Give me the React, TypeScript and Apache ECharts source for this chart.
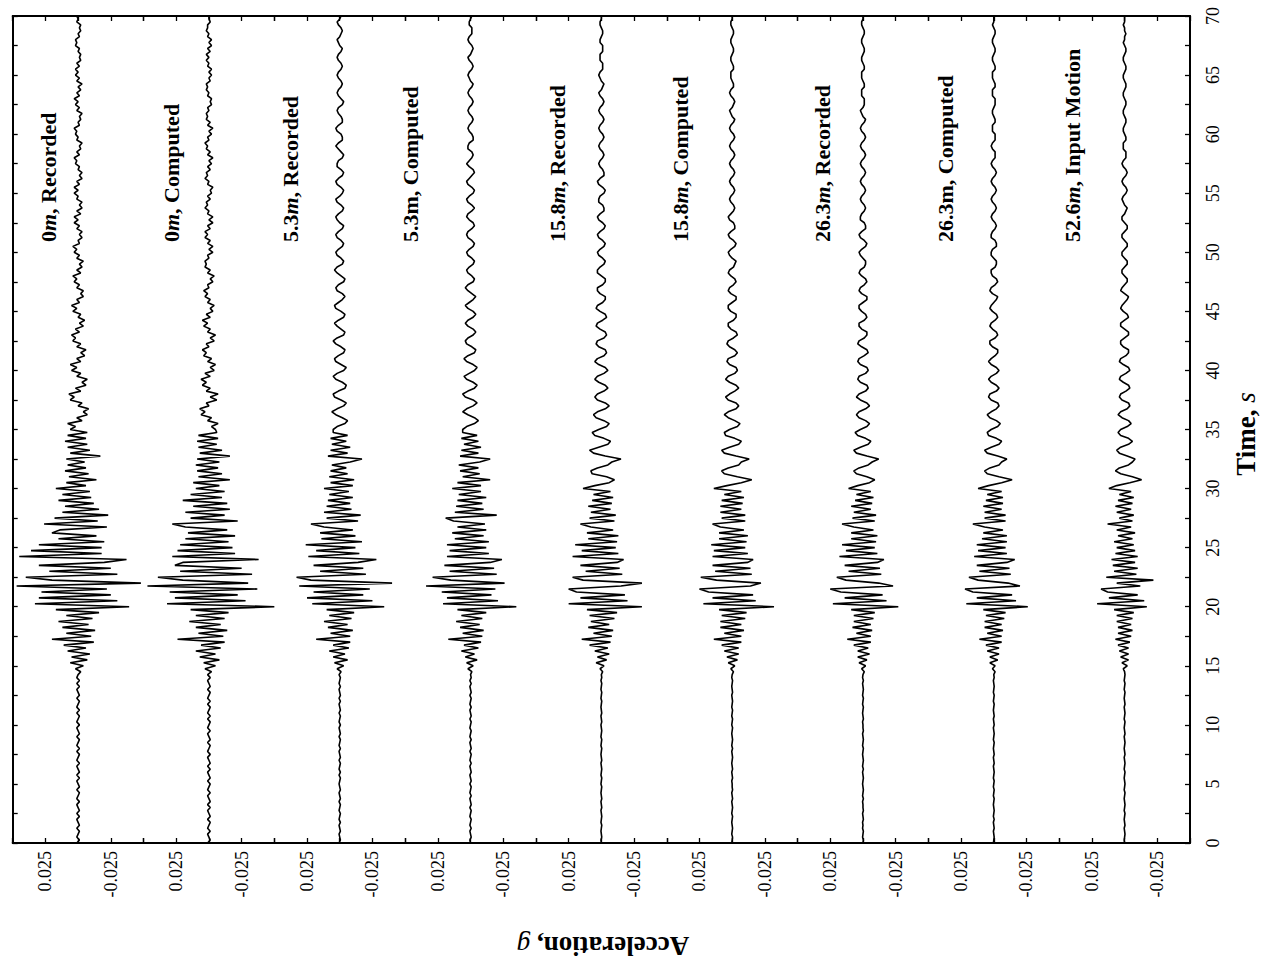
import React, { useEffect, useRef } from "react";
import * as echarts from "echarts";

// ---- data (acceleration in milli-g, sampled every DT seconds from t = 0 to 70 s) ----
const DT = 0.25;
const MILLI_G = 0.001;
const T_MIN = 0;
const T_MAX = 70;
const T_INTERVAL = 5;
const ACC_MIN = -0.05;
const ACC_MAX = 0.05;
const ACC_INTERVAL = 0.025;
const ACC_LABEL = 0.025;

const TRACE_DEPTHS = ["0", "0", "5.3", "5.3", "15.8", "15.8", "26.3", "26.3", "52.6"];
const TRACE_KINDS = ["Recorded", "Computed", "Recorded", "Computed", "Recorded", "Computed", "Recorded", "Computed", "Input Motion"];
const TRACE_ITALIC_M = [true, true, true, false, true, true, true, false, true];

const REC_0M = [
  1,-1,1,0,-1,1,-1,0,1,-1,1,-1,0,1,-1,1,0,-1,1,-1,
  0,1,-1,1,-1,0,1,-1,1,0,-1,1,-1,1,0,-1,1,-1,0,1,
  -1,1,0,-1,1,-1,1,0,-1,1,-1,0,1,-1,1,-1,1,0,-2,2,
  -4,6,-7,5,-9,8,-6,11,-12,20,-10,9,-13,12,-8,15,-11,9,-16,17,
  -39,33,-30,30,-25,28,-22,47,-48,20,40,-30,22,-25,30,-20,-37,45,-18,36,
  -18,30,-20,15,-14,20,14,-22,26,-15,18,-23,12,-16,10,-12,15,-10,12,-9,
  17,-6,9,-14,7,-8,10,-6,8,-5,9,-17,6,-9,8,-7,10,-6,8,-7,
  6,2,8,-3,1,-7,-4,-8,0,-3,6,3,7,-2,2,-6,-3,-7,1,-2,
  5,1,6,-2,1,-5,-2,-6,1,-2,4,2,5,-1,2,-4,-1,-5,0,-2,
  4,1,5,-1,1,-4,-2,-4,1,-1,3,1,4,-2,1,-3,-1,-4,1,-1,
  3,1,4,-1,0,-3,-1,-3,1,-1,3,0,3,-2,1,-3,-1,-3,1,0,
  3,0,3,-1,1,-3,-1,-3,0,-1,2,1,3,-1,1,-2,-1,-3,1,0,
  2,1,3,-1,0,-2,-1,-3,1,-1,2,0,3,-1,1,-2,0,-3,1,-1,
  2,0,2,-1,1,-2,-1,-2,0,-1,2,1,2,-1,0,-2,-1,-2,1,0,
  1,
];

const COMP_0M = [
  1,-1,0,1,-1,1,0,-1,1,-1,0,1,-1,1,-1,0,1,-1,1,0,
  -1,1,-1,0,1,-1,1,-1,0,1,-1,1,0,-1,1,-1,0,1,-1,1,
  0,-1,1,-1,1,0,-1,1,-1,1,0,-1,1,-1,0,1,-1,1,-2,3,
  -5,4,-8,7,-5,10,-9,6,-12,24,-11,8,-14,10,-9,15,-12,10,-15,14,
  -50,32,-28,26,-22,30,-37,47,-30,20,39,-33,22,-25,26,20,-38,28,-20,24,
  -18,22,-15,18,-20,16,-14,18,28,-22,14,-12,18,-16,12,-14,20,-10,14,-12,
  10,-8,12,-16,8,-10,9,-7,10,-8,9,-16,7,-10,8,-6,9,-7,8,-6,
  -5,-2,-7,1,-2,6,3,7,0,2,-6,-1,-7,2,-1,5,2,6,-1,3,
  -4,-1,-5,1,-2,4,2,5,0,2,-4,-1,-5,1,-1,4,1,5,-1,2,
  -3,-1,-4,1,-1,3,1,4,0,1,-3,-1,-4,1,-1,3,2,3,0,1,
  -3,0,-3,1,-1,3,1,3,-1,1,-3,0,-3,1,0,3,1,2,-1,1,
  -2,-1,-3,1,0,3,1,2,-1,1,-2,0,-3,1,-1,2,1,3,0,1,
  -2,0,-3,1,-1,2,1,2,0,1,-2,-1,-2,1,0,2,1,2,-1,0,
  -2,0,-2,1,0,2,0,2,-1,1,-2,0,-2,1,0,2,1,1,-1,0,
  0,
];

const REC_5M = [
  0.5,-0.5,0,0.5,-0.5,0,0.5,-0.5,0.5,0,-0.5,0.5,0,-0.5,0.5,-0.5,0,0.5,-0.5,0,
  0.5,0,-0.5,0.5,-0.5,0.5,0,-0.5,0.5,-0.5,0,0.5,-0.5,0.5,0,-0.5,0.5,-0.5,0,0.5,
  -0.5,0.5,0,-0.5,0.5,-0.5,0,0.5,-0.5,0.5,-0.5,0,0.5,-0.5,0.5,0,-0.5,0.5,-1,2,
  -3,4,-6,5,-4,8,-7,5,-8,18,-8,7,-10,9,-6,12,-9,8,-11,10,
  -34,21,-25,25,-18,20,-23,31,-40,22,33,-20,15,-18,20,-14,-28,24,-15,18,
  -12,26,-17,14,-12,15,-10,12,22,-14,10,-16,12,-9,10,-8,9,-10,8,-7,
  12,-10,7,-11,8,-6,7,-5,6,-8,-17,9,-6,7,-8,6,-5,7,-6,5,
  5,2,-4,-6,-2,3,6,2,-3,-5,-1,4,5,1,-4,-5,-2,3,5,2,
  -3,-5,-1,3,4,1,-3,-4,-1,3,5,2,-3,-4,-1,2,4,1,-3,-4,
  -1,3,4,1,-2,-4,-2,2,3,1,-3,-4,-1,2,4,2,-2,-3,-1,2,
  3,1,-2,-3,-1,2,3,1,-2,-3,0,2,3,1,-2,-3,-1,2,3,0,
  -2,-3,-1,2,3,1,-2,-3,-1,2,2,1,-2,-3,-1,1,3,1,-2,-2,
  -1,2,3,1,-2,-2,-1,1,2,1,-2,-3,-1,1,2,1,-1,-2,-1,1,
  2,1,-1,-2,-1,1,2,1,-1,-2,0,1,2,0,-1,-2,-1,1,2,0,
  -1,
];

const COMP_5M = [
  0,0.5,-0.5,0,0.5,-0.5,0.5,0,-0.5,0.5,0,-0.5,0.5,-0.5,0,0.5,-0.5,0.5,0,-0.5,
  0.5,-0.5,0,0.5,-0.5,0,0.5,-0.5,0.5,0,-0.5,0.5,-0.5,0,0.5,-0.5,0.5,0,-0.5,0.5,
  0,-0.5,0.5,-0.5,0,0.5,-0.5,0.5,0,-0.5,0.5,-0.5,0,0.5,-0.5,0.5,-0.5,0,-1,2,
  -2,3,-5,4,-3,7,-6,5,-8,17,-9,6,-10,8,-7,11,-9,7,-12,10,
  -35,21,-21,18,-16,22,-19,34,-26,15,29,-20,16,-18,20,-15,-24,18,-14,16,
  -12,18,-14,12,-10,14,-12,10,-11,13,19,-20,12,-10,11,-9,10,-12,9,-8,
  14,-8,10,-15,6,-7,8,-6,9,-7,-15,8,-6,7,-8,5,-6,7,-5,6,
  6,3,-3,-6,-3,2,6,3,-2,-5,-2,4,6,2,-3,-5,-2,3,5,1,
  -3,-5,-2,3,5,2,-3,-4,-1,3,4,2,-2,-4,-2,2,4,2,-2,-4,
  -2,2,4,1,-2,-4,-1,2,4,2,-2,-3,-1,2,3,1,-2,-3,-1,2,
  3,1,-2,-3,-1,2,3,2,-1,-3,-2,1,3,2,-1,-3,-1,2,3,1,
  -2,-3,-1,2,3,1,-1,-3,-2,1,3,1,-1,-2,-1,2,2,1,-2,-2,
  -1,1,2,1,-1,-2,-1,1,2,1,-1,-2,-1,1,2,1,-1,-2,0,1,
  2,1,-1,-2,-1,1,2,0,-1,-2,-1,1,2,1,-1,-1,-1,1,1,0,
  -1,
];

const REC_16M = [
  0,0.3,-0.3,0,0.3,0,-0.3,0.3,0,-0.3,0,0.3,-0.3,0,0.3,-0.3,0,0.3,0,-0.3,
  0.3,0,-0.3,0.3,0,-0.3,0,0.3,-0.3,0,0.3,0,-0.3,0.3,0,-0.3,0.3,0,-0.3,0,
  0.3,-0.3,0,0.3,-0.3,0,0.3,0,-0.3,0.3,0,-0.3,0.3,0,-0.3,0.3,-0.3,0,-1,1,
  -2,4,-4,3,-6,5,-5,9,-7,15,-8,6,-9,10,-6,8,-10,9,-12,11,
  -31,25,-20,16,-18,19,25,-15,-31,14,22,-16,12,-14,16,-12,-17,22,-13,15,
  -11,20,-12,10,-13,11,-9,8,16,-10,9,-11,8,-7,10,-8,7,-9,6,-7,
  14,5,-6,-10,-4,7,8,3,-5,-8,-15,-3,6,9,2,-5,-7,-2,5,7,
  2,-4,-6,-2,4,6,3,-3,-6,-3,3,5,3,-2,-5,-3,2,5,3,-2,
  -5,-3,2,5,3,-2,-4,-3,2,4,3,-2,-4,-3,1,4,3,-1,-4,-3,
  1,4,3,-1,-3,-3,1,3,3,-1,-3,-3,0,3,3,1,-2,-3,-1,2,
  3,1,-2,-3,-1,2,3,1,-2,-3,-1,2,3,1,-2,-2,-1,2,2,1,
  -2,-3,-1,2,3,1,-2,-2,-1,1,2,1,-1,-2,-1,1,2,1,-1,-2,
  -1,1,2,1,-1,-2,-1,1,2,1,-1,-2,-1,1,2,0,-1,-2,0,1,
  2,1,-1,-1,-1,1,1,1,-1,-1,-1,1,1,0,-1,-1,0,1,1,0,
  0,
];

const COMP_16M = [
  0.3,0,-0.3,0.3,0,-0.3,0,0.3,0,-0.3,0.3,0,-0.3,0,0.3,-0.3,0,0.3,-0.3,0,
  0,0.3,-0.3,0,0.3,-0.3,0,0.3,0,-0.3,0,0.3,-0.3,0.3,0,-0.3,0,0.3,0,-0.3,
  0.3,0,-0.3,0.3,0,-0.3,0.3,0,-0.3,0,0.3,-0.3,0,0.3,0,-0.3,0.3,0,-1,1,
  -2,3,-4,4,-5,6,-5,8,-7,14,-7,6,-9,9,-7,9,-10,8,-11,10,
  -32,22,-18,15,-16,18,25,-14,-22,12,24,-15,13,-14,15,-12,-16,15,-12,14,
  -10,16,-11,10,-12,10,-9,9,15,-10,8,-10,9,-7,9,-8,8,-9,6,-7,
  14,4,-7,-15,-4,6,8,3,-5,-7,-13,-3,6,8,2,-5,-7,-2,5,6,
  2,-4,-6,-2,3,6,3,-3,-5,-3,3,5,2,-2,-5,-3,2,5,3,-2,
  -4,-3,2,4,3,-2,-4,-2,2,4,3,-1,-4,-3,1,3,3,-1,-3,-3,
  1,3,3,0,-3,-3,1,3,2,-1,-3,-2,1,3,2,-1,-2,-3,0,2,
  3,1,-2,-3,-1,2,3,1,-2,-2,-1,2,3,1,-1,-2,-1,1,2,1,
  -1,-2,-1,1,2,1,-1,-2,-1,1,2,1,-1,-2,-1,1,2,1,-1,-2,
  -1,1,2,1,-1,-2,0,1,2,0,-1,-2,-1,1,2,1,-1,-1,0,1,
  1,1,-1,-1,0,1,1,0,-1,-1,0,1,1,0,-1,-1,0,1,1,0,
  0,
];

const REC_26M = [
  0,-0.3,0.3,0,-0.3,0.3,0,0.3,-0.3,0,0.3,-0.3,0,0,0.3,-0.3,0.3,0,-0.3,0,
  0.3,0,-0.3,0,0.3,-0.3,0.3,0,-0.3,0,0.3,0,-0.3,0.3,0,-0.3,0,0.3,-0.3,0,
  0,0.3,-0.3,0,0.3,0,-0.3,0.3,0,-0.3,0.3,0,-0.3,0,0.3,-0.3,0.3,0,-1,1,
  -2,3,-3,4,-5,4,-4,7,-6,12,-6,5,-7,8,-6,7,-8,7,-9,9,
  -27,23,-18,14,-15,17,25,-23,-12,13,20,-14,11,-13,14,-11,-16,18,-11,13,
  -9,16,-10,9,-11,9,-8,7,16,-9,8,-10,7,-6,9,-7,6,-8,5,-6,
  11,4,-5,-9,-3,5,7,3,-4,-7,-12,-3,5,7,2,-4,-6,-2,4,6,
  2,-3,-5,-2,3,5,3,-2,-5,-3,2,5,3,-2,-4,-3,2,4,3,-2,
  -4,-3,2,4,3,-1,-4,-3,1,4,3,-1,-3,-3,1,3,3,-1,-3,-2,
  1,3,3,0,-3,-3,1,3,2,-1,-3,-2,1,3,2,-1,-2,-2,0,2,
  3,1,-2,-3,-1,2,3,1,-2,-2,-1,2,2,1,-1,-2,-1,1,2,1,
  -1,-2,-1,1,2,1,-1,-2,-1,1,2,1,-1,-2,-1,1,2,1,-1,-2,
  -1,1,2,1,-1,-2,0,1,2,0,-1,-1,-1,1,1,1,-1,-1,0,1,
  1,1,-1,-1,0,1,1,0,-1,-1,0,1,1,0,-1,-1,0,1,1,0,
  0,
];

const COMP_26M = [
  0.3,0,-0.3,0,0.3,-0.3,0,0.3,-0.3,0.3,0,-0.3,0,0.3,0,-0.3,0.3,0,-0.3,0.3,
  0,-0.3,0.3,0,-0.3,0,0.3,-0.3,0,0.3,-0.3,0,0.3,0,-0.3,0.3,0,-0.3,0,0.3,
  -0.3,0,0.3,-0.3,0,0.3,0,-0.3,0.3,0,-0.3,0.3,0,-0.3,0,0.3,-0.3,0,-1,1,
  -1,3,-3,3,-4,5,-4,6,-6,11,-6,5,-7,7,-6,7,-8,6,-9,8,
  -26,21,-17,13,-14,16,22,-20,-11,12,19,-13,11,-12,13,-10,-16,15,-10,12,
  -9,13,-10,9,-10,8,-7,7,16,-9,7,-9,7,-6,8,-7,6,-7,5,-6,
  12,4,-6,-14,-4,5,7,3,-4,-6,-10,-3,5,7,2,-4,-6,-2,4,5,
  2,-3,-5,-2,3,5,2,-2,-4,-3,2,4,3,-2,-4,-2,2,4,2,-2,
  -4,-2,2,4,2,-1,-3,-3,1,3,3,-1,-3,-2,1,3,2,-1,-3,-2,
  1,3,2,0,-2,-3,1,3,2,-1,-3,-2,1,2,2,-1,-2,-2,0,2,
  2,1,-2,-2,-1,2,2,1,-1,-2,-1,1,2,1,-1,-2,-1,1,2,1,
  -1,-2,-1,1,2,1,-1,-2,-1,1,2,1,-1,-1,-1,1,2,1,-1,-1,
  -1,1,1,1,-1,-1,0,1,1,0,-1,-1,-1,1,1,1,-1,-1,0,1,
  1,1,-1,-1,0,1,1,0,-1,-1,0,1,1,0,-1,-1,0,1,0,0,
  0,
];

const INPUT_53M = [
  0,0.3,0,-0.3,0,0.3,-0.3,0,0.3,0,-0.3,0.3,0,-0.3,0,0.3,0,-0.3,0.3,0,
  -0.3,0,0.3,0,-0.3,0.3,0,-0.3,0,0.3,-0.3,0,0.3,0,-0.3,0,0.3,-0.3,0,0.3,
  0,-0.3,0.3,0,-0.3,0,0.3,-0.3,0,0.3,0,-0.3,0.3,0,-0.3,0.3,0,-0.3,0,1,
  -2,2,-3,3,-3,4,-3,5,-4,7,-5,5,-6,5,-5,6,-6,6,-7,8,
  -17,21,-15,12,-10,13,18,-12,6,-22,14,-9,8,-10,9,-8,10,-10,7,-8,
  6,-7,8,-6,5,-8,6,-5,13,-6,4,-7,6,-5,7,-6,5,-7,4,-5,
  12,6,-4,-13,-6,3,7,4,-3,-6,-8,-2,4,6,3,-3,-6,-3,3,5,
  3,-2,-5,-3,2,5,3,-2,-4,-3,2,4,3,-1,-4,-3,1,4,3,-1,
  -4,-3,1,4,3,-1,-3,-3,1,3,3,0,-3,-3,0,3,3,0,-3,-2,
  1,3,2,0,-2,-3,0,3,2,0,-2,-2,0,2,2,0,-2,-2,0,2,
  2,0,-2,-2,0,2,2,0,-2,-2,0,2,2,0,-1,-2,0,1,2,1,
  -1,-2,-1,1,2,1,-1,-2,-1,1,2,1,-1,-1,-1,1,1,1,-1,-1,
  0,1,1,0,-1,-1,0,1,1,0,-1,-1,0,1,1,0,-1,-1,0,1,
  1,0,-1,-1,0,1,1,0,-1,-1,0,1,0,0,-1,0,0,1,0,0,
  0,
];

const TRACES = [REC_0M, COMP_0M, REC_5M, COMP_5M, REC_16M, COMP_16M, REC_26M, COMP_26M, INPUT_53M];

// ---- layout (pixels) ----
const PLOT_LEFT = 12.7;
const PLOT_RIGHT = 1190;
const PLOT_TOP = 16;
const PLOT_BOTTOM = 843;
const LABEL_X = [48, 171, 290, 410, 557, 680, 822, 945, 1072];
const LABEL_START_Y = 242;
const SERIF = '"Liberation Serif", "Times New Roman", serif';

export default function App() {
  const ref = useRef<HTMLDivElement>(null);

  useEffect(() => {
    document.body.style.margin = "0";
    const chart = echarts.init(ref.current!, null, { renderer: "svg" });
    const n = TRACES.length;
    const colW = (PLOT_RIGHT - PLOT_LEFT) / n;
    const plotH = PLOT_BOTTOM - PLOT_TOP;

    const grid = TRACES.map((_, i) => ({
      left: PLOT_LEFT + i * colW,
      width: colW,
      top: PLOT_TOP,
      height: plotH,
      containLabel: false,
      outerBoundsMode: "none",
    }));

    const lineStyle = { color: "#000", width: 2 };
    const tickStyle = { color: "#000", width: 1.3 };

    const accFormatter = (v: number) =>
      Math.abs(Math.abs(v) - ACC_LABEL) < 1e-9 ? (v > 0 ? "0.025" : "-0.025") : "";

    const bottomAxes = TRACES.map((_, i) => ({
      type: "value",
      gridIndex: i,
      position: "bottom",
      min: ACC_MIN,
      max: ACC_MAX,
      interval: ACC_INTERVAL,
      inverse: true,
      axisLine: { show: true, onZero: false, lineStyle },
      axisTick: { show: true, inside: true, length: 5, lineStyle: tickStyle },
      axisLabel: {
        show: true,
        rotate: 90,
        margin: 8,
        color: "#000",
        fontSize: 18,
        fontFamily: SERIF,
        formatter: accFormatter,
        showMinLabel: true,
        showMaxLabel: true,
      },
      splitLine: { show: false },
    }));
    const topAxes = TRACES.map((_, i) => ({
      type: "value",
      gridIndex: i,
      position: "top",
      min: ACC_MIN,
      max: ACC_MAX,
      interval: ACC_INTERVAL,
      inverse: true,
      axisLine: { show: true, onZero: false, lineStyle },
      axisTick: { show: true, inside: true, length: 5, lineStyle: tickStyle },
      axisLabel: { show: false },
      splitLine: { show: false },
    }));

    const yAxes = TRACES.map((_, i) => {
      const isLeft = i === 0;
      const isRight = i === n - 1;
      return {
        type: "value",
        gridIndex: i,
        show: isLeft || isRight,
        position: isRight ? "right" : "left",
        min: T_MIN,
        max: T_MAX,
        interval: T_INTERVAL,
        axisLine: { show: true, onZero: false, lineStyle },
        axisTick: { show: true, inside: true, length: 5, lineStyle: tickStyle },
        minorTick: { show: true, splitNumber: 2, length: 5, lineStyle: tickStyle },
        axisLabel: {
          show: isRight,
          rotate: 90,
          margin: 14,
          color: "#000",
          fontSize: 18,
          fontFamily: SERIF,
        },
        splitLine: { show: false },
        minorSplitLine: { show: false },
      };
    });

    const series = TRACES.map((trace, i) => ({
      type: "line",
      xAxisIndex: i,
      yAxisIndex: i,
      data: trace.map((v, k) => [v * MILLI_G, k * DT]),
      showSymbol: false,
      symbol: "none",
      lineStyle: { color: "#000", width: 1.6 },
      silent: true,
      clip: false,
      z: 3,
    }));

    const traceLabels = TRACES.map((_, i) => ({
      type: "text",
      x: LABEL_X[i],
      y: LABEL_START_Y,
      rotation: Math.PI / 2,
      z: 10,
      style: {
        text: `{b|${TRACE_DEPTHS[i]}}{${TRACE_ITALIC_M[i] ? "i" : "b"}|m}{b|, ${TRACE_KINDS[i]}}`,
        rich: {
          b: { fontFamily: SERIF, fontWeight: "bold", fontSize: 22, fill: "#000" },
          i: { fontFamily: SERIF, fontWeight: "bold", fontStyle: "italic", fontSize: 22, fill: "#000" },
        },
        fill: "#000",
        align: "left",
        verticalAlign: "middle",
        textAlign: "left",
        textVerticalAlign: "middle",
      },
    }));

    const titles = [
      {
        type: "text",
        x: 1246,
        y: 434,
        rotation: Math.PI / 2,
        z: 10,
        style: {
          text: "{b|Time, }{i|s}",
          rich: {
            b: { fontFamily: SERIF, fontWeight: "bold", fontSize: 27, fill: "#000" },
            i: { fontFamily: SERIF, fontStyle: "italic", fontSize: 27, fill: "#000" },
          },
          align: "center",
          verticalAlign: "middle",
          textAlign: "center",
          textVerticalAlign: "middle",
        },
      },
      {
        type: "text",
        x: 603,
        y: 946,
        rotation: Math.PI,
        z: 10,
        style: {
          text: "{b|Acceleration, }{i|g}",
          rich: {
            b: { fontFamily: SERIF, fontWeight: "bold", fontSize: 27, fill: "#000" },
            i: { fontFamily: SERIF, fontStyle: "italic", fontSize: 27, fill: "#000" },
          },
          align: "center",
          verticalAlign: "middle",
          textAlign: "center",
          textVerticalAlign: "middle",
        },
      },
    ];

    chart.setOption({
      animation: false,
      backgroundColor: "#fff",
      grid,
      xAxis: [...bottomAxes, ...topAxes],
      yAxis: yAxes,
      series,
      graphic: [...traceLabels, ...titles],
    });

    return () => chart.dispose();
  }, []);

  return (
    <div
      ref={ref}
      style={{ position: "absolute", left: 0, top: 0, width: 1269, height: 965 }}
    />
  );
}
